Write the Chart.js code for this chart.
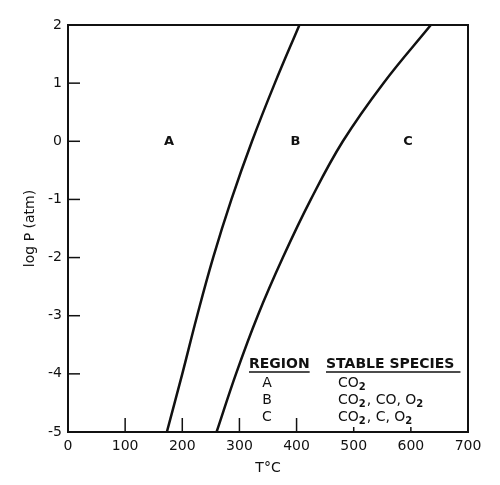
<!DOCTYPE html>
<html>
<head>
<meta charset="utf-8">
<script src="https://cdn.jsdelivr.net/npm/chart.js@4"></script>
<style>
  html, body { margin: 0; padding: 0; background: #fff; }
  #wrap { width: 500px; height: 485px; }
</style>
</head>
<body>
<div id="wrap"><canvas id="chart" width="500" height="485"></canvas></div>
<script>
// log P (atm) levels where the boundaries were read
const logP = [-5, -4, -3, -2, -1, 0, 1, 2];
// boundary A/B (T in °C)
const boundaryAB = [173, 200, 226, 254, 286, 322, 362, 405];
// boundary B/C (T in °C)
const boundaryBC = [260, 294, 332, 376, 425, 481, 552, 635];

const xTicks = [0, 100, 200, 300, 400, 500, 600, 700];
const yTicks = [-5, -4, -3, -2, -1, 0, 1, 2];

const regionNames = ['A', 'B', 'C'];
const regionT = [177, 398, 595];
const regionLogP = [0, 0, 0];

const tableRegions = ['A', 'B', 'C'];
// species, '_' marks a subscript
const tableSpecies = [
    [['CO', ''], ['2', '_']],
    [['CO', ''], ['2', '_'], [', CO, O', ''], ['2', '_']],
    [['CO', ''], ['2', '_'], [', C, O', ''], ['2', '_']]
];

const FONT = '"DejaVu Sans", sans-serif';

const toPoints = (xs) => xs.map((t, i) => ({ x: t, y: logP[i] }));

const framePlugin = {
    id: 'frame',
    afterDraw(chart) {
        const ctx = chart.ctx;
        const a = chart.chartArea;
        const xs = chart.scales.x;
        const ys = chart.scales.y;
        ctx.save();
        ctx.strokeStyle = '#111';
        ctx.lineWidth = 2;
        ctx.strokeRect(a.left, a.top, a.right - a.left, a.bottom - a.top);

        // inward ticks
        ctx.lineWidth = 1.5;
        yTicks.forEach(v => {
            if (v === -5 || v === 2) return;
            const y = ys.getPixelForValue(v);
            ctx.beginPath();
            ctx.moveTo(a.left, y);
            ctx.lineTo(a.left + 12, y);
            ctx.stroke();
        });
        xTicks.forEach(v => {
            if (v === 0 || v === 700) return;
            const x = xs.getPixelForValue(v);
            const len = v >= 500 ? 5 : 14;
            ctx.beginPath();
            ctx.moveTo(x, a.bottom);
            ctx.lineTo(x, a.bottom - len);
            ctx.stroke();
        });

        // region letters
        ctx.fillStyle = '#111';
        ctx.font = 'bold 13px ' + FONT;
        ctx.textAlign = 'center';
        ctx.textBaseline = 'middle';
        regionNames.forEach((n, i) => {
            ctx.fillText(n, xs.getPixelForValue(regionT[i]), ys.getPixelForValue(regionLogP[i]));
        });

        // table
        ctx.font = 'bold 14px ' + FONT;
        ctx.textAlign = 'left';
        const headY = 364;
        const h1 = 'REGION', h2 = 'STABLE SPECIES';
        const x1 = 249, x2 = 326;
        ctx.fillText(h1, x1, headY);
        ctx.fillText(h2, x2, headY);
        ctx.lineWidth = 1.5;
        [[x1, ctx.measureText(h1).width], [x2, ctx.measureText(h2).width + 6]].forEach(([x, w]) => {
            ctx.beginPath();
            ctx.moveTo(x, headY + 8);
            ctx.lineTo(x + w, headY + 8);
            ctx.stroke();
        });
        tableRegions.forEach((r, i) => {
            const y = 383 + i * 17;
            ctx.textAlign = 'center';
            ctx.font = '14px ' + FONT;
            ctx.fillText(r, 267, y);
            ctx.textAlign = 'left';
            let x = 338;
            tableSpecies[i].forEach(([txt, kind]) => {
                if (kind === '_') {
                    ctx.font = 'bold 10px ' + FONT;
                    ctx.fillText(txt, x, y + 4);
                } else {
                    ctx.font = '14px ' + FONT;
                    ctx.fillText(txt, x, y);
                }
                x += ctx.measureText(txt).width + (kind === '_' ? 1 : 0);
            });
        });
        ctx.restore();
    }
};

const lineStyle = {
    showLine: true,
    borderColor: '#111',
    borderWidth: 2.5,
    pointRadius: 0,
    fill: false,
    tension: 0.4
};

new Chart(document.getElementById('chart'), {
    type: 'scatter',
    data: {
        datasets: [
            Object.assign({ label: 'A/B', data: toPoints(boundaryAB) }, lineStyle),
            Object.assign({ label: 'B/C', data: toPoints(boundaryBC) }, lineStyle)
        ]
    },
    options: {
        responsive: false,
        animation: false,
        layout: { padding: { left: 0, top: 25, right: 32, bottom: 0 } },
        plugins: {
            legend: { display: false },
            tooltip: { enabled: false }
        },
        scales: {
            x: {
                type: 'linear',
                min: 0,
                max: 700,
                afterBuildTicks: s => { s.ticks = xTicks.map(v => ({ value: v })); },
                afterFit: s => { s.height = 53; },
                grid: { display: false, drawTicks: false },
                border: { display: false },
                ticks: { color: '#111', padding: 6, font: { family: FONT, size: 14 }, maxRotation: 0 },
                title: {
                    display: true, text: 'T°C', color: '#111',
                    font: { family: FONT, size: 14 }, padding: { top: 0, bottom: 8 }
                }
            },
            y: {
                type: 'linear',
                min: -5,
                max: 2,
                afterBuildTicks: s => { s.ticks = yTicks.map(v => ({ value: v })); },
                afterFit: s => { s.width = 68; },
                grid: { display: false, drawTicks: false },
                border: { display: false },
                ticks: { color: '#111', padding: 6, font: { family: FONT, size: 14 } },
                title: {
                    display: true, text: 'log P (atm)', color: '#111',
                    font: { family: FONT, size: 14 }, padding: { top: 22, bottom: 0 }
                }
            }
        }
    },
    plugins: [framePlugin]
});
</script>
</body>
</html>
